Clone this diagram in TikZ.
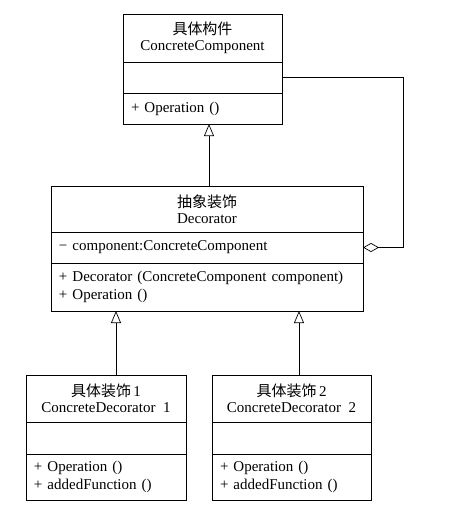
\documentclass[tikz,border=0pt]{standalone}
\usepackage{fontspec}
\setmainfont{Liberation Serif}
\newfontfamily\cjk{Noto Sans CJK SC}
\usetikzlibrary{positioning,arrows.meta}

\begin{document}
\begin{tikzpicture}[x=1pt,y=-1pt,line width=0.7pt,
    head/.style={draw,align=center,inner sep=0pt,outer sep=0pt,font=\fontsize{15}{16}\selectfont},
    part/.style={draw,align=left,inner xsep=8pt,inner ysep=0pt,outer sep=0pt,font=\fontsize{15}{18}\selectfont},
    inherit/.style={-{Triangle[open,width=10pt,length=12pt]}},
    aggr/.style={{Diamond[open,width=9pt,length=16pt]}-}]

            \useasboundingbox[fill=white] (0,0) rectangle (466,515);

            % concrete component
            \node[head, minimum width=159pt, minimum height=48pt]  (comp) at (202.5,38) {{\cjk 具体构件}\\ConcreteComponent};
            \node[part, text width=143pt, minimum height=31pt]  (compAttr) [below = 0pt of comp]{};
            \node[part, text width=143pt, minimum height=31pt]  (compOps) [below = 0pt of compAttr]{+ Operation ()};

            % decorator
            \node[head, minimum width=312pt, minimum height=46pt]  (deco) at (207,209) {{\cjk 抽象装饰}\\Decorator};
            \node[part, text width=296pt, minimum height=31pt]  (decoAttr) [below = 0pt of deco]{− component:ConcreteComponent};
            \node[part, text width=296pt, minimum height=48pt]  (decoOps) [below = 0pt of decoAttr]{+ Decorator (ConcreteComponent component)\\+ Operation ()};

            % concrete decorators
            \node[head, minimum width=160pt, minimum height=47pt]  (dec1) at (106,398.5) {{\cjk 具体装饰}\,1\\ConcreteDecorator\ \ 1};
            \node[part, text width=144pt, minimum height=32pt]  (dec1Attr) [below = 0pt of dec1]{};
            \node[part, text width=144pt, minimum height=46pt]  (dec1Ops) [below = 0pt of dec1Attr]{+ Operation ()\\+ addedFunction ()};

            \node[head, minimum width=159pt, minimum height=47pt]  (dec2) at (291.5,398.5) {{\cjk 具体装饰}\,2\\ConcreteDecorator\ \ 2};
            \node[part, text width=143pt, minimum height=32pt]  (dec2Attr) [below = 0pt of dec2]{};
            \node[part, text width=143pt, minimum height=46pt]  (dec2Ops) [below = 0pt of dec2Attr]{+ Operation ()\\+ addedFunction ()};

            \coordinate (bend) at (403,0);

            \draw[inherit] ([xshift=2pt]deco.north) -- ([xshift=2pt]deco.north |- compOps.south);
            \draw[inherit] ([xshift=10pt]dec1.north) -- ([xshift=10pt]dec1.north |- decoOps.south);
            \draw[inherit] ([xshift=7.5pt]dec2.north) -- ([xshift=7.5pt]dec2.north |- decoOps.south);
            \draw[aggr] (decoAttr.east) -- (decoAttr.east -| bend) |- (compAttr.east);
        \end{tikzpicture}
\end{document}
